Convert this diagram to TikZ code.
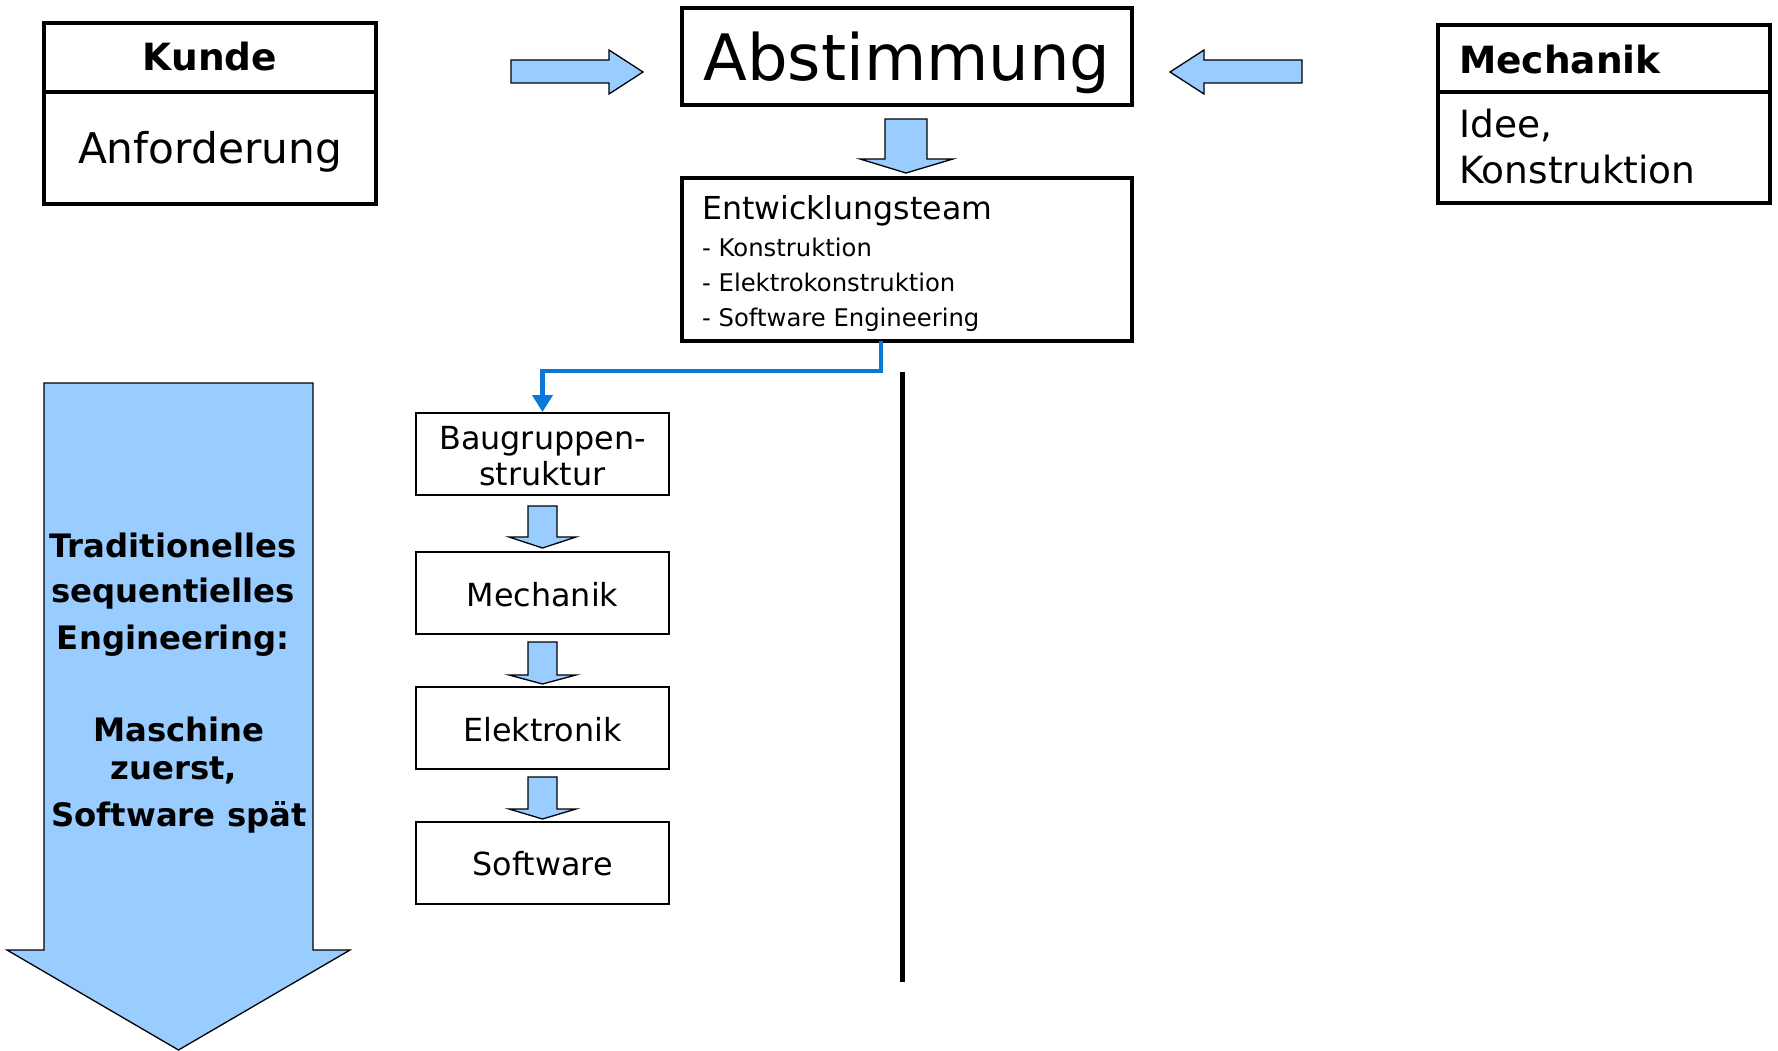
\documentclass[tikz,border=0pt]{standalone}
\usepackage{fontspec}
\setmainfont{DejaVu Sans}
\usetikzlibrary{arrows.meta}
\definecolor{arrowfill}{HTML}{99CCFF}
\definecolor{linkblue}{HTML}{0A78D8}
\tikzset{
  bigbox/.style={draw=black,line width=3.5pt,inner sep=0pt},
  smallbox/.style={draw=black,line width=2pt,inner sep=0pt,minimum width=253pt,minimum height=82pt},
  blockarrow/.style={draw=black,line width=1.3pt,fill=arrowfill,line join=miter},
  txt/.style={inner sep=0pt,anchor=base},
  hdr/.style={txt,font=\bfseries\fontsize{37.5}{45}\selectfont},
  body/.style={txt,font=\fontsize{31.8}{38}\selectfont},
  item/.style={txt,anchor=base west,font=\fontsize{24.3}{29}\selectfont},
  bold/.style={txt,font=\bfseries\fontsize{32.3}{38}\selectfont},
}
\begin{document}
\begin{tikzpicture}[x=1pt,y=-1pt]
\useasboundingbox (0,0) rectangle (1778,1051);
% big left arrow
\draw[blockarrow] (44,383) -- (313,383) -- (313,950) -- (350,950) -- (178.5,1050) -- (7,950) -- (44,950) -- cycle;
\node[bold] (t1) at (173,557) {Traditionelles};
\node[bold] (t2) at (173,602) {sequentielles};
\node[bold] (t3) at (173,649) {Engineering:};
\node[bold] (t4) at (179,741) {Maschine};
\node[bold] (t5) at (174,779) {zuerst,};
\node[bold] (t6) at (179,826) {Software spät};
% Kunde
\node[bigbox,minimum width=332pt,minimum height=181pt] (kunde) at (210,113.5) {};
\draw[line width=3.5pt] (kunde.west |- 0,92) -- (kunde.east |- 0,92);
\node[hdr] (kundet) at (210,71) {Kunde};
\node[txt,font=\fontsize{42.3}{50}\selectfont] (anf) at (210,164) {Anforderung};
% Mechanik header box
\node[bigbox,minimum width=332pt,minimum height=178pt] (mech) at (1604,114) {};
\draw[line width=3.5pt] (mech.west |- 0,92) -- (mech.east |- 0,92);
\node[hdr,anchor=base west] (mecht) at (1459,74) {Mechanik};
\node[txt,anchor=base west,font=\fontsize{37.5}{45}\selectfont] (idee) at (1459,138) {Idee,};
\node[txt,anchor=base west,font=\fontsize{37.5}{45}\selectfont] (konst) at (1459,184) {Konstruktion};
% Abstimmung
\node[bigbox,minimum width=450pt,minimum height=97pt] (abst) at (907,56.5) {};
\node[txt,font=\fontsize{64}{76}\selectfont] (abstt) at (907,81) {Abstimmung};
% side arrows
\draw[blockarrow] (511,60) -- (609,60) -- (609,50) -- (643,72) -- (609,94) -- (609,83) -- (511,83) -- cycle;
\draw[blockarrow] (1302,60) -- (1204,60) -- (1204,50) -- (1170,72) -- (1204,94) -- (1204,83) -- (1302,83) -- cycle;
% down arrow
\draw[blockarrow] (885,119) -- (927,119) -- (927,159) -- (953,159) -- (906,173) -- (860,159) -- (885,159) -- cycle;
% Entwicklungsteam
\node[bigbox,minimum width=450pt,minimum height=163pt] (team) at (907,259.5) {};
\node[txt,anchor=base west,font=\fontsize{31.6}{38}\selectfont] (teamt) at (702,220) {Entwicklungsteam};
\node[item] (i1) at (702,257) {- Konstruktion};
\node[item] (i2) at (702,291) {- Elektrokonstruktion};
\node[item] (i3) at (702,326) {- Software Engineering};
% vertical line
\coordinate (vtop) at (902,372);
\coordinate (vbot) at (902,982);
\draw[line width=5pt] (vtop) -- (vbot);
% small boxes
\node[smallbox] (bg) at (542.5,454) {};
\node[body] (bg1) at (542.5,449) {Baugruppen-};
\node[body] (bg2) at (542.5,485) {struktur};
\node[smallbox] (mk) at (542.5,593) {};
\node[body] (mkt) at (542.5,606) {Mechanik};
\node[smallbox] (el) at (542.5,728) {};
\node[body] (elt) at (542.5,741) {Elektronik};
\node[smallbox] (sw) at (542.5,863) {};
\node[body] (swt) at (542.5,875) {Software};
% blue connector
\coordinate (c0) at (881,341);
\draw[linkblue,line width=4.5pt,-{Triangle[width=20pt,length=17pt]}] (c0) -- (881,371) -| (bg.north);
% small arrows
\foreach \t/\b/\p in {506/537/548, 642/675/684, 777/809/819}{
  \draw[blockarrow] (528,\t) -- (557,\t) -- (557,\b) -- (576,\b) -- (542.5,\p) -- (509,\b) -- (528,\b) -- cycle;
}
\end{tikzpicture}
\end{document}
